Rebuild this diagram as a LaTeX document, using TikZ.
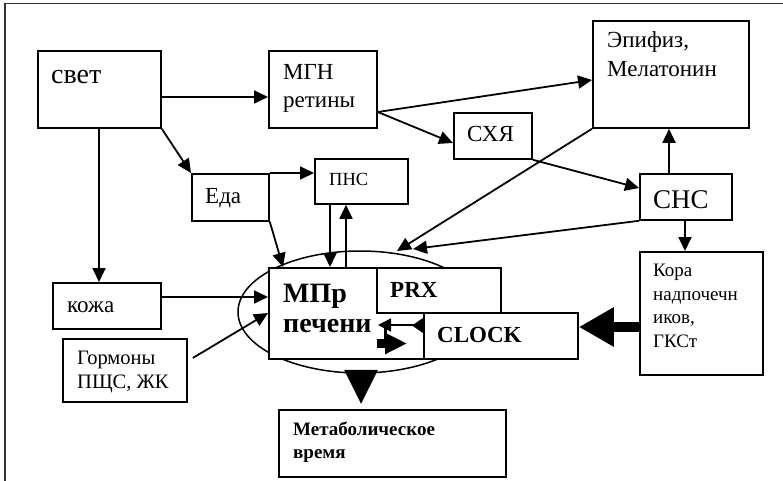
\documentclass[tikz,border=0pt]{standalone}
\usepackage{fontspec}
\setmainfont{Liberation Serif}
\usetikzlibrary{arrows.meta,shapes.geometric}
\newcommand{\myfs}[1]{\fontsize{#1}{#1}\selectfont}
\tikzset{
  box/.style={draw=black, line width=1.8pt, fill=white, inner sep=0pt, anchor=north west},
  txt/.style={anchor=base west, inner sep=0pt},
  conn/.style={line width=1.8pt, -{Triangle[length=14pt,width=13pt]}},
  frame/.style={line width=1.5pt, black!80}
}
\begin{document}
\begin{tikzpicture}[x=1pt,y=-1pt]
\useasboundingbox (0,0) rectangle (783,481);
\draw[frame] (5,3.5) -- (783,3.5);
\draw[frame] (5,3.5) -- (5,481);

% boxes and texts
\node[box, minimum width=123pt, minimum height=77pt] (svet) at (37,50) {};
\node[txt, font=\myfs{28}] (svetT) at (51,84) {свет};
\node[box, minimum width=108pt, minimum height=77pt] (mgn) at (268,50) {};
\node[txt, font=\myfs{23}] (mgnT1) at (283,80) {МГН};
\node[txt, font=\myfs{23}] (mgnT2) at (283,108) {ретины};
\node[box, minimum width=156pt, minimum height=107pt] (epi) at (592,20) {};
\node[txt, font=\myfs{23}] (epiT1) at (607,48) {Эпифиз,};
\node[txt, font=\myfs{23}] (epiT2) at (607,77) {Мелатонин};
\node[box, minimum width=77pt, minimum height=47pt] (eda) at (191,173) {};
\node[txt, font=\myfs{23}] (edaT) at (205,203) {Еда};
\node[box, minimum width=93pt, minimum height=45pt] (pns) at (314,158) {};
\node[txt, font=\myfs{18.5}] (pnsT) at (329,185) {ПНС};
\node[box, minimum width=78pt, minimum height=46pt] (shy) at (453,112) {};
\node[txt, font=\myfs{23}] (shyT) at (467,142) {СХЯ};
\node[box, minimum width=92pt, minimum height=46pt] (sns) at (639,173) {};
\node[txt, font=\myfs{27}] (snsT) at (653,208) {СНС};
\node[box, minimum width=108pt, minimum height=46pt] (kozha) at (52,282) {};
\node[txt, font=\myfs{23}] (kozhaT) at (67,312) {кожа};
\node[box, minimum width=124pt, minimum height=63pt] (gorm) at (62,338) {};
\node[txt, font=\myfs{20.5}] (gormT1) at (77,364) {Гормоны};
\node[txt, font=\myfs{20.5}] (gormT2) at (77,388) {ПЩС, ЖК};

\node[draw, ellipse, line width=1.5pt, minimum width=244pt, minimum height=122pt, inner sep=0pt] (ell) at (360,312) {};
\node[box, minimum width=155pt, minimum height=91pt] (mpr) at (268,267) {};
\node[txt, font=\bfseries\myfs{28}] (mprT1) at (283,302) {МПр};
\node[txt, font=\bfseries\myfs{28}] (mprT2) at (283,332) {печени};
\node[box, minimum width=124pt, minimum height=45pt] (prx) at (376,267) {};
\node[txt, font=\bfseries\myfs{23}] (prxT) at (390,297) {PRX};
\node[box, minimum width=154pt, minimum height=46pt] (clock) at (423,312) {};
\node[txt, font=\bfseries\myfs{23}] (clockT) at (437,342) {CLOCK};
\node[box, minimum width=123pt, minimum height=123pt] (kora) at (639,251) {};
\node[txt, font=\myfs{19}] (koraT1) at (653,276) {Кора};
\node[txt, font=\myfs{19}] (koraT2) at (653,300) {надпочечн};
\node[txt, font=\myfs{19}] (koraT3) at (653,323) {иков,};
\node[txt, font=\myfs{19}] (koraT4) at (653,347) {ГКСт};
\node[box, minimum width=227pt, minimum height=67pt] (met) at (278,409) {};
\node[txt, font=\bfseries\myfs{19}] (metT1) at (293,435) {Метаболическое};
\node[txt, font=\bfseries\myfs{19}] (metT2) at (293,458) {время};

% connectors
\draw[conn] ([yshift=-47pt]svet.north east) -- ([yshift=-47pt]mgn.north west);
\draw[conn] (svet.south east) -- (eda.north west);
\draw[conn] (eda.north east) -- ([yshift=-15pt]pns.north west);
\draw[conn] (eda.south east) -- ([xshift=15pt]mpr.north west);
\draw[conn] ([xshift=62pt]svet.south west) -- ([xshift=47pt]kozha.north west);
\draw[conn] ([yshift=-15pt]kozha.north east) -- ([yshift=-30pt]mpr.north west);
\draw[conn] ([xshift=5pt,yshift=-20pt]gorm.north east) -- ([yshift=-46pt]mpr.north west);
\draw[conn] ([xshift=16pt]pns.south west) -- ([xshift=62pt]mpr.north west);
\draw[conn] ([xshift=78pt]mpr.north west) -- ([xshift=32pt]pns.south west);
\draw[conn] ([yshift=-62pt]mgn.north east) -- ([yshift=-60pt]epi.north west);
\draw[conn] ([yshift=-62pt]mgn.north east) -- ([yshift=-31pt]shy.north west);
\draw[conn] (shy.south east) -- ([yshift=-15pt]sns.north west);
\draw[conn] ([xshift=30pt]sns.north west) -- ([xshift=77pt]epi.south west);
\draw[conn] ([xshift=46pt]sns.south west) -- ([xshift=46pt]kora.north west);
\coordinate (tipA) at (397,251);
\coordinate (tipB) at (413,249);
\draw[conn] (epi.south west) -- (tipA);
\draw[conn] (sns.south west) -- (tipB);
\draw[line width=10pt, -{Triangle[length=35pt,width=37pt]}] ([yshift=-76pt]kora.north west) -- ([yshift=-15pt]clock.north east);
\fill ([xshift=-16pt,yshift=4pt]ell.south) -- ([xshift=18pt,yshift=4pt]ell.south) -- ([xshift=1pt,yshift=-30pt]ell.south) -- cycle;

% small arrows inside the liver box
\coordinate (pechR) at (378,325);
\draw[line width=1.5pt, -{Triangle[length=13pt,width=13pt]}] ([yshift=-13pt]clock.north west) -- (pechR);
\fill ([yshift=-6pt]clock.north west) -- ([yshift=-21pt]clock.north west) -- ([xshift=-11pt,yshift=-13.5pt]clock.north west) -- cycle;
\draw[line width=2.5pt] (385.5,327) -- (385.5,340);
\coordinate (thA) at (377,343.5);
\coordinate (thB) at (407,343.5);
\draw[line width=9pt, -{Triangle[length=22pt,width=20pt]}] (thA) -- (thB);
\end{tikzpicture}
\end{document}
